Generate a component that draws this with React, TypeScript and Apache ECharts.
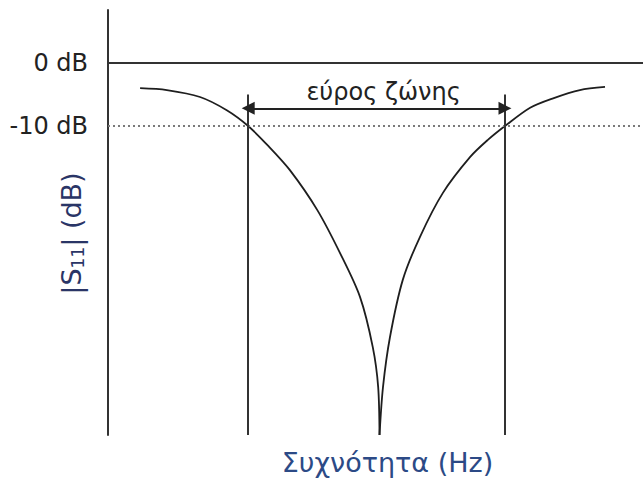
import React, { useEffect, useRef } from "react";
import * as echarts from "echarts";

// Frequency axis is in arbitrary units (0–100), magnitude in dB
const leftX = [6.0, 11.0, 17.2, 22.2, 26.2, 30.0, 34.0, 39.1, 43.4, 47.1, 49.5, 50.5, 50.75];
const leftY = [-4.0, -4.3, -5.4, -7.5, -10.0, -13.2, -17.0, -23.3, -30.2, -37.1, -45.1, -51.4, -59];
const rightX = [50.75, 51.4, 52.7, 55.1, 58.3, 62.6, 67.7, 71.0, 74.2, 78.9, 83.2, 88.2, 92.9];
const rightY = [-59, -51.4, -43.5, -34.4, -27.6, -20.6, -14.9, -12.2, -10.0, -7.1, -5.6, -4.3, -3.8];
const tickValues = [0, -10];
const bandEdges = [26.2, 74.2];
const bandTop = -5.0;
const arrowLevel = -7.2;
const bandLabel = "εύρος ζώνης";
const yMin = -59;
const yMax = 8.4;

const FONT = "DejaVu Sans, Verdana, sans-serif";

export default function App() {
  const ref = useRef<HTMLDivElement>(null);
  useEffect(() => {
    if (!ref.current) return;
    const chart = echarts.init(ref.current, null, { renderer: "svg" });
    const pair = (xs: number[], ys: number[]) => xs.map((x, i) => [x, ys[i]]);
    const lineCol = "#1e1e1e";
    chart.setOption({
      animation: false,
      backgroundColor: "#fff",
      grid: { left: 108, right: 0, top: 10, bottom: 50 },
      xAxis: {
        type: "value",
        min: 0,
        max: 100,
        name: "Συχνότητα (Hz)",
        nameLocation: "middle",
        nameGap: 14,
        nameMoveOverlap: false,
        nameTextStyle: { color: "#2c4a86", fontSize: 27, fontFamily: FONT, padding: [0, 0, 0, 24] },
        axisLine: { show: true, lineStyle: { color: "#333", width: 2 } },
        axisTick: { show: false },
        axisLabel: { show: false },
        splitLine: { show: false },
      },
      yAxis: {
        type: "value",
        min: yMin,
        max: yMax,
        name: "{n||S}{s|11}{n|| (dB)}",
        nameLocation: "middle",
        nameRotate: 90,
        nameGap: 22,
        nameMoveOverlap: false,
        nameTextStyle: {
          color: "#2a3566",
          fontSize: 27,
          fontFamily: FONT,
          padding: [0, 22, 0, 0],
          rich: {
            n: { color: "#2a3566", fontSize: 27, fontFamily: FONT },
            s: { color: "#2a3566", fontSize: 17, fontFamily: FONT, verticalAlign: "bottom", padding: [12, 0, 0, 0] },
          },
        },
        axisLine: { show: true, lineStyle: { color: "#333", width: 2 } },
        axisTick: { show: false },
        axisLabel: {
          customValues: tickValues,
          formatter: (v: number) => `${v} dB`,
          color: "#222",
          fontSize: 24,
          margin: 20,
          fontFamily: FONT,
        },
        splitLine: { show: false },
      },
      series: [
        {
          type: "line",
          data: pair(leftX, leftY),
          smooth: 0.3,
          showSymbol: false,
          lineStyle: { color: lineCol, width: 1.8 },
          markLine: {
            silent: true,
            symbol: "none",
            label: { show: false },
            data: [
              { yAxis: 0, lineStyle: { color: "#333", width: 2, type: "solid" } },
              { yAxis: -10, lineStyle: { color: "#7a7a7a", width: 2, type: [2, 3] } },
              ...bandEdges.map((e) => [
                { coord: [e, yMin], lineStyle: { color: "#333", width: 2, type: "solid" } },
                { coord: [e, bandTop] },
              ]),
            ],
          },
        },
        {
          type: "line",
          data: pair(rightX, rightY),
          smooth: 0.3,
          showSymbol: false,
          lineStyle: { color: lineCol, width: 1.8 },
          markLine: {
            silent: true,
            symbol: ["triangle", "triangle"],
            symbolSize: 13,
            label: {
              show: true,
              position: "middle",
              formatter: bandLabel,
              color: "#222",
              fontSize: 24,
              distance: 4,
              padding: [0, 0, 0, 14],
              fontFamily: FONT,
            },
            lineStyle: { color: "#222", width: 2, type: "solid" },
            data: [
              [
                { coord: [bandEdges[0], arrowLevel] },
                { coord: [bandEdges[1], arrowLevel] },
              ],
            ],
          },
        },
      ],
    });
    return () => chart.dispose();
  }, []);
  return (
    <div
      ref={ref}
      style={{ position: "absolute", left: 0, top: 0, width: 643, height: 485 }}
    />
  );
}
